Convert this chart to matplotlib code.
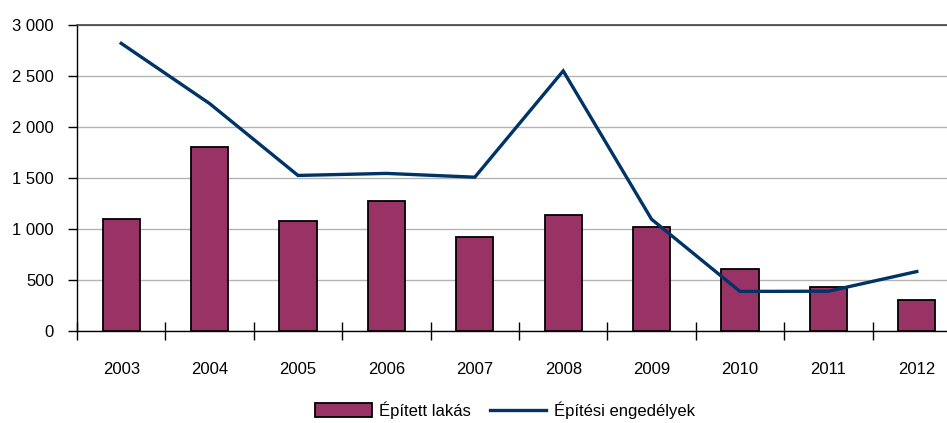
import matplotlib
matplotlib.use("Agg")
import matplotlib.pyplot as plt
from matplotlib.ticker import FuncFormatter, FixedLocator
import numpy as np

years = ["2003", "2004", "2005", "2006", "2007", "2008", "2009", "2010", "2011", "2012"]
epitett_lakas = [1095, 1805, 1075, 1270, 920, 1135, 1015, 605, 430, 308]
epitesi_engedelyek = [2820, 2230, 1525, 1545, 1508, 2550, 1095, 388, 390, 583]
yticks = [0, 500, 1000, 1500, 2000, 2500, 3000]

bar_color = "#993366"
line_color = "#003366"

plt.rcParams['font.family'] = ['Liberation Sans', 'DejaVu Sans']

fig = plt.figure(figsize=(9.47, 4.23), dpi=100)
W, H = 947, 423
ax = fig.add_axes([77 / W, (H - 331) / H, 884 / W, 306 / H])

x = np.arange(len(years))
bars = ax.bar(x, epitett_lakas, width=0.42, color=bar_color, edgecolor="black",
              linewidth=1.3, zorder=3, label="Épített lakás")
line, = ax.plot(x, epitesi_engedelyek, color=line_color, linewidth=2.4, zorder=4,
                solid_joinstyle="miter", label="Építési engedélyek")

ax.set_xlim(-0.5, 9.5)
ax.set_ylim(0, 3000)
ax.set_yticks(yticks)
ax.yaxis.set_major_formatter(FuncFormatter(lambda v, p: f"{int(v):,}".replace(",", " ")))
ax.yaxis.grid(True, color="#b3b3b3", linewidth=1.0, zorder=0)
ax.set_axisbelow(True)

ax.set_xticks(x)
ax.set_xticklabels(years)
ax.xaxis.set_minor_locator(FixedLocator(np.arange(-0.5, 10, 1)))
ax.tick_params(axis="x", which="major", length=0, pad=22, labelsize=12)
ax.tick_params(axis="x", which="minor", length=12.5, direction="inout", width=1.0)
ax.tick_params(axis="y", which="major", length=6.5, direction="out", width=1.0,
               pad=10, labelsize=12)

ax.spines["right"].set_visible(False)
ax.spines["top"].set_color("#404040")
ax.spines["top"].set_linewidth(1.2)
ax.spines["left"].set_linewidth(1.0)
ax.spines["bottom"].set_linewidth(1.0)

fig.legend([bars, line], ["Épített lakás", "Építési engedélyek"], loc="center",
           bbox_to_anchor=(505 / W, 13 / H),
           ncol=2, frameon=False, fontsize=12, handlelength=3.4,
           handleheight=0.85, columnspacing=1.1, handletextpad=0.45)

fig.savefig("out.png", dpi=100)
